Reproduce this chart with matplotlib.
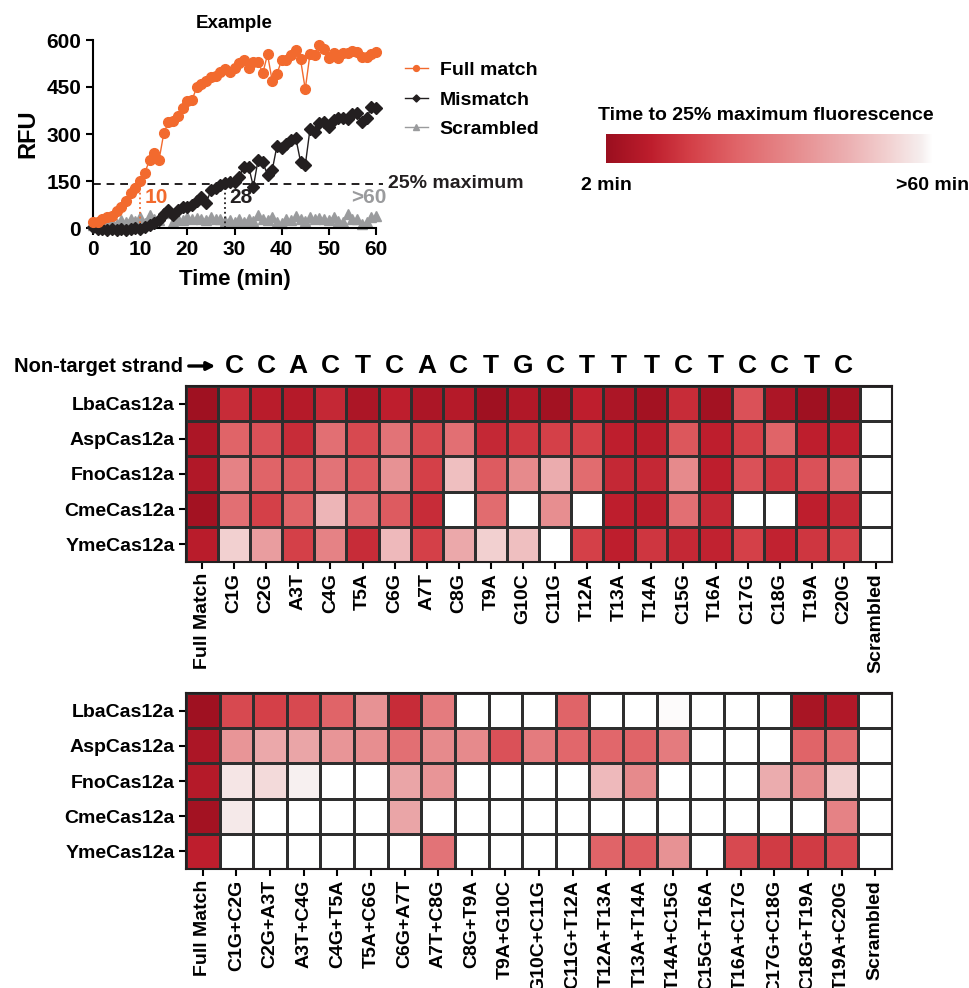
import numpy as np
import matplotlib.pyplot as plt
from matplotlib.colors import LinearSegmentedColormap, Normalize

plt.rcParams['font.family'] = ['Liberation Sans', 'DejaVu Sans']
plt.rcParams['font.weight'] = 'bold'
plt.rcParams['axes.labelweight'] = 'bold'

W, H = 969, 988

# ---- kinetics example (RFU per minute) ----
time_min = np.arange(0, 61)
full_match = [20, 20, 28, 36, 38, 55, 68, 87, 111, 127, 150, 177, 217, 238, 217, 302, 339, 340, 359, 382,
              404, 409, 449, 460, 469, 481, 485, 499, 508, 497, 510, 526, 536, 512, 531, 531, 494, 554, 469, 492,
              536, 536, 552, 568, 538, 443, 555, 552, 584, 570, 542, 560, 542, 557, 557, 566, 561, 545, 547, 555, 563]
mismatch = [2, -2, -4, -6, -3, -6, -2, -5, -3, 0, -3, 4, 10, 16, 27, 45, 57, 41, 57, 66,
            66, 73, 87, 98, 79, 121, 127, 137, 145, 148, 147, 164, 196, 196, 132, 217, 210, 169, 185, 262,
            255, 269, 281, 287, 212, 200, 315, 305, 334, 337, 322, 345, 350, 350, 347, 364, 366, 337, 350, 385, 382]
scrambled = [10, 5, 15, 8, 20, 12, 25, 18, 30, 22, 35, 15, 42, 30, 25, 48, 52, 20, 30, 25,
             35, 28, 32, 30, 26, 35, 28, 30, 22, 25, 20, 28, 18, 30, 22, 40, 30, 25, 35, 20,
             15, 30, 25, 38, 30, 22, 35, 28, 32, 30, 25, 35, 22, 20, 45, 30, 28, 12, 20, 35, 38]
threshold = 141
t_full, t_mismatch = 10, 28

# ---- heatmaps: time (min) to 25% maximum fluorescence, 60 = >60 min ----
enzymes = ['LbaCas12a', 'AspCas12a', 'FnoCas12a', 'CmeCas12a', 'YmeCas12a']
strand = list('CCACTCACTGCTTTCTCCTC')
single_labels = ['Full Match', 'C1G', 'C2G', 'A3T', 'C4G', 'T5A', 'C6G', 'A7T', 'C8G', 'T9A', 'G10C',
                 'C11G', 'T12A', 'T13A', 'T14A', 'C15G', 'T16A', 'C17G', 'C18G', 'T19A', 'C20G', 'Scrambled']
single_times = [
    [3, 13, 9, 8, 12, 6, 10, 6, 8, 3, 7, 4, 10, 6, 4, 13, 4, 21, 6, 3, 4, 60],
    [6, 25, 21, 13, 28, 19, 29, 19, 28, 12, 15, 17, 17, 10, 9, 22, 10, 17, 25, 10, 10, 60],
    [7, 33, 25, 23, 29, 23, 37, 17, 48, 23, 35, 44, 27, 12, 12, 35, 10, 21, 15, 21, 28, 60],
    [4, 28, 17, 25, 46, 28, 23, 13, 60, 27, 60, 36, 60, 10, 9, 28, 12, 60, 60, 10, 12, 60],
    [9, 52, 40, 17, 33, 13, 47, 17, 43, 52, 48, 60, 17, 10, 15, 12, 11, 17, 11, 15, 17, 60],
]
double_labels = ['Full Match', 'C1G+C2G', 'C2G+A3T', 'A3T+C4G', 'C4G+T5A', 'T5A+C6G', 'C6G+A7T',
                 'A7T+C8G', 'C8G+T9A', 'T9A+G10C', 'G10C+C11G', 'C11G+T12A', 'T12A+T13A', 'T13A+T14A',
                 'T14A+C15G', 'C15G+T16A', 'T16A+C17G', 'C17G+C18G', 'C18G+T19A', 'T19A+C20G', 'Scrambled']
double_times = [
    [3, 19, 17, 19, 25, 37, 13, 31, 60, 60, 60, 25, 60, 60, 59.5, 60, 60, 60, 5, 7, 60],
    [6, 38, 43, 42, 38, 36, 28, 35, 35, 21, 31, 26, 26, 25, 31, 60, 60, 60, 25, 27, 60],
    [8, 56, 54, 58, 60, 60, 42, 38, 60, 60, 60, 60, 47, 35, 60, 60, 60, 44, 35, 52, 60],
    [4, 57, 60, 60, 60, 60, 42, 60, 60, 60, 60, 60, 60, 60, 60, 60, 60, 60, 60, 33, 60],
    [10, 60, 60, 60, 60, 60, 60, 29, 60, 60, 60, 60, 25, 23, 37, 60, 19, 16, 16, 19, 60],
]

t_lo, t_hi = 2, 60
stops = [(2, '#9b0f1f'), (10, '#be1e2d'), (17, '#d44048'), (25, '#e06468'),
         (35, '#e68a8c'), (45, '#ecb0b2'), (52, '#f2d0d0'), (58, '#f6eeee'), (60, '#ffffff')]
cmap = LinearSegmentedColormap.from_list(
    'time25', [((m - t_lo) / (t_hi - t_lo), c) for m, c in stops])
norm = Normalize(t_lo, t_hi)

orange = '#f26a2e'
black = '#231f20'
grey = '#9a9b9d'

fig = plt.figure(figsize=(W / 100, H / 100), dpi=100)


def px_axes(left, top, right, bottom):
    return fig.add_axes([left / W, 1 - bottom / H, (right - left) / W, (bottom - top) / H])


# ---- line chart ----
ax = px_axes(93, 40, 376, 228)
ax.plot(time_min, full_match, '-o', color=orange, ms=7, lw=1, label='Full match', clip_on=False, zorder=4)
ax.plot(time_min, mismatch, '-D', color=black, ms=6, lw=1, label='Mismatch', clip_on=False, zorder=3)
ax.plot(time_min, scrambled, '-^', color=grey, ms=7, lw=1, label='Scrambled', clip_on=False, zorder=2)
ax.plot([0, 61.5], [threshold, threshold], '--', color=black, lw=1.4, clip_on=False, dashes=(4, 3))
ax.plot([t_full, t_full], [0, threshold], ':', color=orange, lw=1.3)
ax.plot([t_mismatch, t_mismatch], [0, threshold], ':', color=black, lw=1.3)
ax.text(t_full + 1, threshold - 12, '10', color=orange, fontsize=15, fontweight='bold', va='top')
ax.text(t_mismatch + 0.9, threshold - 12, '28', color=black, fontsize=15, fontweight='bold', va='top')
ax.text(62.3, threshold - 12, '>60', color=grey, fontsize=15, fontweight='bold', va='top', ha='right')
ax.text(62.6, threshold, '25% maximum', color=black, fontsize=14, fontweight='bold', va='center')
ax.set_xlim(0, 60)
ax.set_ylim(0, 600)
ax.set_xticks(range(0, 61, 10))
ax.set_yticks(range(0, 601, 150))
ax.tick_params(labelsize=15, width=1.5, length=5)
for side in ['top', 'right']:
    ax.spines[side].set_visible(False)
for side in ['left', 'bottom']:
    ax.spines[side].set_linewidth(1.5)
ax.set_title('Example', fontsize=13.5, fontweight='bold', pad=9)
ax.set_ylabel('RFU', fontsize=17, labelpad=5)
ax.set_xlabel('Time (min)', fontsize=16, labelpad=7)
ax.legend(loc='upper left', bbox_to_anchor=(1.04, 0.98), frameon=False, fontsize=14,
          handlelength=1.2, markerscale=0.6, labelspacing=0.62, handletextpad=0.6)

# ---- colour key ----
cax = px_axes(606, 134, 932, 163)
cax.imshow(np.linspace(t_lo, t_hi, 512)[None, :], cmap=cmap, norm=norm, aspect='auto')
cax.set_axis_off()
fig.text(766 / W, 1 - 115 / H, 'Time to 25% maximum fluorescence', ha='center', va='center',
         fontsize=14, fontweight='bold')
fig.text(581 / W, 1 - 185 / H, '2 min', ha='left', va='center', fontsize=14, fontweight='bold')
fig.text(969 / W, 1 - 185 / H, '>60 min', ha='right', va='center', fontsize=14, fontweight='bold')


def draw_heatmap(hax, values, xlabels):
    values = np.array(values, dtype=float)
    nrows, ncols = values.shape
    hax.pcolormesh(values, cmap=cmap, norm=norm, edgecolors='#2e2e2e', linewidth=1.0)
    hax.set_xlim(0, ncols)
    hax.set_ylim(nrows, 0)
    hax.set_xticks(np.arange(ncols) + 0.5)
    hax.set_xticklabels(xlabels, rotation=90, fontsize=14, fontweight='bold')
    hax.set_yticks(np.arange(nrows) + 0.5)
    hax.set_yticklabels(enzymes, fontsize=14, fontweight='bold')
    hax.tick_params(length=5, width=1.5, pad=3)
    for sp in hax.spines.values():
        sp.set_linewidth(1.5)
        sp.set_color('#231f20')


# ---- single mismatches ----
hm1 = px_axes(186, 386, 892, 562)
draw_heatmap(hm1, single_times, single_labels)
for i, base in enumerate(strand):
    hm1.text(i + 1.5, -0.57, base, ha='center', va='center', fontsize=19, fontweight='bold')
fig.text(183 / W, 1 - 366 / H, 'Non-target strand', ha='right', va='center', fontsize=14.5,
         fontweight='bold')
hm1.annotate('', xy=(218 / W, 1 - 366 / H), xytext=(186 / W, 1 - 366 / H),
             xycoords='figure fraction', textcoords='figure fraction',
             arrowprops=dict(arrowstyle='-|>', color='black', lw=2.4, mutation_scale=12))

# ---- double mismatches ----
hm2 = px_axes(186, 693, 892, 869)
draw_heatmap(hm2, double_times, double_labels)

fig.savefig('out.png', dpi=100)
